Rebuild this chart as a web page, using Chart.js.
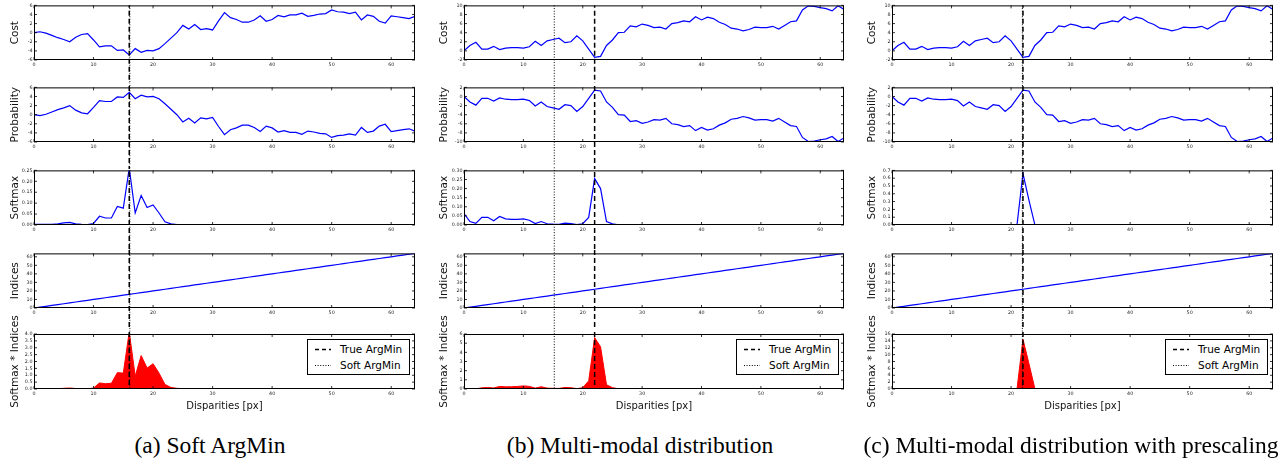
<!DOCTYPE html>
<html><head><meta charset="utf-8">
<script src="https://cdn.jsdelivr.net/npm/chart.js@4.4.1/dist/chart.umd.min.js"></script>
<style>
html,body{margin:0;padding:0;background:#fff;}
body{width:1287px;height:461px;overflow:hidden;position:relative;font-family:'DejaVu Sans',sans-serif;}
canvas{position:absolute;}
.legend{position:absolute;border:1px solid #000;background:#fff;box-sizing:border-box;width:103px;height:36px;font-size:10.5px;color:#000;z-index:5;}
.legend .row{position:absolute;left:0;width:101px;height:14px;line-height:14px;}
.legend svg{position:absolute;left:7px;top:0;}
.legend span{position:absolute;left:32px;top:0;white-space:nowrap;}
.cap{position:absolute;font-family:'Liberation Serif',serif;font-size:23.5px;line-height:27px;white-space:nowrap;transform:translateX(-50%);color:#000;}
</style></head><body>
<script>
// ---------------- data ----------------
const disparities = [0,1,2,3,4,5,6,7,8,9,10,11,12,13,14,15,16,17,18,19,20,21,22,23,24,25,26,27,28,29,30,31,32,33,34,35,36,37,38,39,40,41,42,43,44,45,46,47,48,49,50,51,52,53,54,55,56,57,58,59,60,61,62,63,64];
const indices     = [0,1,2,3,4,5,6,7,8,9,10,11,12,13,14,15,16,17,18,19,20,21,22,23,24,25,26,27,28,29,30,31,32,33,34,35,36,37,38,39,40,41,42,43,44,45,46,47,48,49,50,51,52,53,54,55,56,57,58,59,60,61,62,63,64];

// (a) Soft ArgMin
const costA = [0,0.2,-0.1,-0.6,-1.1,-1.5,-2.0,-1.0,-0.4,-0.2, -1.6,-3.1,-2.9,-2.9,-3.9,-3.8,-4.9,-3.5,-4.3,-3.9, -4.0,-3.5,-2.4,-1.2,0,1.6,0.8,1.8,0.7,0.9, 0.6,2.6,4.4,3.3,2.9,2.3,2.3,2.8,3.7,2.5, 2.9,3.8,3.5,3.9,3.9,4.3,3.6,3.8,4.1,4.2, 5.0,4.6,4.5,4.2,4.5,2.8,3.9,3.6,2.5,2.1, 3.7,3.5,3.3,3.1,3.6];
const probA = [0,-0.2,0.1,0.6,1.1,1.5,2.0,1.0,0.4,0.2, 1.6,3.1,2.9,2.9,3.9,3.8,4.9,3.5,4.3,3.9, 4.0,3.5,2.4,1.2,0,-1.6,-0.8,-1.8,-0.7,-0.9, -0.6,-2.6,-4.4,-3.3,-2.9,-2.3,-2.3,-2.8,-3.7,-2.5, -2.9,-3.8,-3.5,-3.9,-3.9,-4.3,-3.6,-3.8,-4.1,-4.2, -5.0,-4.6,-4.5,-4.2,-4.5,-2.8,-3.9,-3.6,-2.5,-2.1, -3.7,-3.5,-3.3,-3.1,-3.6];
const softA = [0.003,0.003,0.003,0.003,0.005,0.010,0.012,0.005,0.003,0.002, 0.007,0.040,0.032,0.032,0.085,0.077,0.260,0.055,0.135,0.080, 0.092,0.055,0.015,0.005,0.002,0.001,0.001,0.001,0,0, 0,0,0,0,0,0,0,0,0,0, 0,0,0,0,0,0,0,0,0,0, 0,0,0,0,0,0,0,0,0,0, 0,0,0,0,0];
const softIdxA = [0,0.003,0.006,0.009,0.020,0.050,0.072,0.035,0.024,0.018, 0.070,0.440,0.384,0.416,1.190,1.155,4.160,0.935,2.430,1.520, 1.840,1.155,0.330,0.115,0.048,0.025,0.026,0.027,0,0, 0,0,0,0,0,0,0,0,0,0, 0,0,0,0,0,0,0,0,0,0, 0,0,0,0,0,0,0,0,0,0, 0,0,0,0,0];
const trueArgMinA = 16, softArgMinA = 16.1;

// (b) Multi-modal distribution
const costB = [0,1.2,1.9,0.4,0.4,1.0,0.3,0.6,0.7,0.7, 0.6,0.9,2.1,1.2,2.2,2.5,2.8,1.8,2.0,3.3, 2.2,0.4,-1.4,-1.2,1.2,2.4,4.0,4.1,5.5,5.3, 5.9,5.6,5.1,5.2,4.8,6.0,6.2,6.6,6.4,7.5, 6.8,7.4,7.1,6.3,5.8,5.0,4.8,4.4,4.7,5.2, 5.1,5.1,5.4,4.8,5.6,6.4,6.6,9.0,9.9,9.8, 9.5,9.3,8.8,9.9,9.1];
const probB = [0,-1.2,-1.9,-0.4,-0.4,-1.0,-0.3,-0.6,-0.7,-0.7, -0.6,-0.9,-2.1,-1.2,-2.2,-2.5,-2.8,-1.8,-2.0,-3.3, -2.2,-0.4,1.4,1.2,-1.2,-2.4,-4.0,-4.1,-5.5,-5.3, -5.9,-5.6,-5.1,-5.2,-4.8,-6.0,-6.2,-6.6,-6.4,-7.5, -6.8,-7.4,-7.1,-6.3,-5.8,-5.0,-4.8,-4.4,-4.7,-5.2, -5.1,-5.1,-5.4,-4.8,-5.6,-6.4,-6.6,-9.0,-9.9,-9.8, -9.5,-9.3,-8.8,-9.9,-9.1];
const softB = [0.063,0.019,0.009,0.042,0.042,0.023,0.047,0.034,0.031,0.031, 0.034,0.026,0.008,0.019,0.007,0.005,0.004,0.010,0.008,0.002, 0.007,0.042,0.255,0.200,0.019,0.006,0.001,0.001,0,0, 0,0,0,0,0,0,0,0,0,0, 0,0,0,0,0,0,0,0,0,0, 0,0,0,0,0,0,0,0,0,0, 0,0,0,0,0];
const softIdxB = [0,0.019,0.018,0.126,0.168,0.115,0.282,0.238,0.248,0.279, 0.340,0.286,0.096,0.247,0.098,0.075,0.064,0.170,0.144,0.038, 0.140,0.882,5.610,4.600,0.456,0.150,0.026,0.027,0,0, 0,0,0,0,0,0,0,0,0,0, 0,0,0,0,0,0,0,0,0,0, 0,0,0,0,0,0,0,0,0,0, 0,0,0,0,0];
const trueArgMinB = 22, softArgMinB = 15.2;

// (c) Multi-modal distribution with prescaling
const costC = [0,1.2,1.9,0.4,0.4,1.0,0.3,0.6,0.7,0.7, 0.6,0.9,2.1,1.2,2.2,2.5,2.8,1.8,2.0,3.3, 2.2,0.4,-1.4,-1.2,1.2,2.4,4.0,4.1,5.5,5.3, 5.9,5.6,5.1,5.2,4.8,6.0,6.2,6.6,6.4,7.5, 6.8,7.4,7.1,6.3,5.8,5.0,4.8,4.4,4.7,5.2, 5.1,5.1,5.4,4.8,5.6,6.4,6.6,9.0,9.9,9.8, 9.5,9.3,8.8,9.9,9.1];
const probC = [0,-1.2,-1.9,-0.4,-0.4,-1.0,-0.3,-0.6,-0.7,-0.7, -0.6,-0.9,-2.1,-1.2,-2.2,-2.5,-2.8,-1.8,-2.0,-3.3, -2.2,-0.4,1.4,1.2,-1.2,-2.4,-4.0,-4.1,-5.5,-5.3, -5.9,-5.6,-5.1,-5.2,-4.8,-6.0,-6.2,-6.6,-6.4,-7.5, -6.8,-7.4,-7.1,-6.3,-5.8,-5.0,-4.8,-4.4,-4.7,-5.2, -5.1,-5.1,-5.4,-4.8,-5.6,-6.4,-6.6,-9.0,-9.9,-9.8, -9.5,-9.3,-8.8,-9.9,-9.1];
const softC = [0.006,0.001,0.001,0.002,0.002,0.001,0.002,0.002,0.001,0.001, 0.001,0.001,0,0.001,0,0,0,0,0,0, 0,0.002,0.660,0.320,0.003,0,0,0,0,0, 0,0,0,0,0,0,0,0,0,0, 0,0,0,0,0,0,0,0,0,0, 0,0,0,0,0,0,0,0,0,0, 0,0,0,0,0];
const softIdxC = [0,0.001,0.002,0.006,0.008,0.005,0.012,0.014,0.008,0.009, 0.010,0.011,0,0.013,0,0,0,0,0,0, 0,0.042,14.5,7.4,0.072,0,0,0,0,0, 0,0,0,0,0,0,0,0,0,0, 0,0,0,0,0,0,0,0,0,0, 0,0,0,0,0,0,0,0,0,0, 0,0,0,0,0];
const trueArgMinC = 22, softArgMinC = 21.9;

// tick values / labels
const xTicks = [0,10,20,30,40,50,60];
const xMax = 64;
const costTicksA = [-6,-4,-2,0,2,4,6];
const costTicksBC = [-2,0,2,4,6,8,10];
const probTicksA = [-6,-4,-2,0,2,4,6];
const probTicksBC = [-10,-8,-6,-4,-2,0,2];
const softTicksA = [0,0.05,0.10,0.15,0.20,0.25];
const softLabelsA = ['0.00','0.05','0.10','0.15','0.20','0.25'];
const softTicksB = [0,0.05,0.10,0.15,0.20,0.25,0.30];
const softLabelsB = ['0.00','0.05','0.10','0.15','0.20','0.25','0.30'];
const softTicksC = [0,0.1,0.2,0.3,0.4,0.5,0.6,0.7];
const softLabelsC = ['0.0','0.1','0.2','0.3','0.4','0.5','0.6','0.7'];
const idxTicks = [0,10,20,30,40,50,60];
const idxMax = 64;
const siTicksA = [0,0.5,1.0,1.5,2.0,2.5,3.0,3.5,4.0];
const siLabelsA = ['0.0','0.5','1.0','1.5','2.0','2.5','3.0','3.5','4.0'];
const siTicksB = [0,1,2,3,4,5,6];
const siTicksC = [0,2,4,6,8,10,12,14,16];
const rowTitles = ['Cost','Probability','Softmax','Indices','Softmax * Indices'];
const xTitle = 'Disparities [px]';
const legendLabels = ['True ArgMin','Soft ArgMin'];
const captions = ['(a) Soft ArgMin','(b) Multi-modal distribution','(c) Multi-modal distribution with prescaling'];

// ---------------- build ----------------
const columns = [
  {rows:[
    {v:costA, t:costTicksA}, {v:probA, t:probTicksA}, {v:softA, t:softTicksA, l:softLabelsA},
    {v:indices, t:idxTicks, max:idxMax}, {v:softIdxA, t:siTicksA, l:siLabelsA, fill:true}],
   trueX:trueArgMinA, softX:softArgMinA},
  {rows:[
    {v:costB, t:costTicksBC}, {v:probB, t:probTicksBC}, {v:softB, t:softTicksB, l:softLabelsB},
    {v:indices, t:idxTicks, max:idxMax}, {v:softIdxB, t:siTicksB, fill:true}],
   trueX:trueArgMinB, softX:softArgMinB},
  {rows:[
    {v:costC, t:costTicksBC}, {v:probC, t:probTicksBC}, {v:softC, t:softTicksC, l:softLabelsC},
    {v:indices, t:idxTicks, max:idxMax}, {v:softIdxC, t:siTicksC, fill:true}],
   trueX:trueArgMinC, softX:softArgMinC}
];

// layout (pixels)
const plotL = [34,464,892], plotR = [415,844,1273];
const canvasTops = [1,83,166,249,310], canvasH = [82,83,83,81,102];
const padTops = [4,4,4,4,24];
const plotH = 55, axisW = 34, padRight = 3;
const titlePad = [9,7.5,7.7];
const capCenters = [210,640,1071];
const FONT = 'DejaVu Sans';

const framePlugin = {
  id:'frame',
  afterDraw(chart){
    const {ctx, chartArea:a, scales:{x,y}} = chart;
    ctx.save();
    ctx.strokeStyle = '#000'; ctx.lineWidth = 0.8; ctx.setLineDash([]);
    ctx.beginPath();
    x.ticks.forEach(t=>{const p=x.getPixelForValue(t.value);
      ctx.moveTo(p,a.bottom); ctx.lineTo(p,a.bottom-3); ctx.moveTo(p,a.top); ctx.lineTo(p,a.top+3);});
    y.ticks.forEach(t=>{const p=y.getPixelForValue(t.value);
      ctx.moveTo(a.left,p); ctx.lineTo(a.left+3,p); ctx.moveTo(a.right,p); ctx.lineTo(a.right-3,p);});
    ctx.stroke();
    ctx.lineWidth = 1;
    ctx.strokeRect(a.left+0.5, a.top+0.5, a.right-a.left-1, a.bottom-a.top-1);
    ctx.restore();
  }
};
const vlinePlugin = {
  id:'vlines',
  afterDatasetsDraw(chart, args, o){
    const {ctx, chartArea:a, scales:{x}} = chart;
    const y0 = o.first ? a.top : o.startY;
    const y1 = o.last ? a.bottom : chart.height;
    ctx.save();
    ctx.strokeStyle = '#000';
    ctx.lineWidth = 1; ctx.setLineDash([1,1.7]); ctx.lineDashOffset = -(o.pageTop + y0) % 2.7;
    let p = x.getPixelForValue(o.softX);
    ctx.beginPath(); ctx.moveTo(p,y0); ctx.lineTo(p,y1); ctx.stroke();
    ctx.lineWidth = 1.5; ctx.setLineDash([5,3]); ctx.lineDashOffset = -(o.pageTop + y0) % 8;
    p = x.getPixelForValue(o.trueX);
    ctx.beginPath(); ctx.moveTo(p,y0); ctx.lineTo(p,y1); ctx.stroke();
    ctx.restore();
  }
};

columns.forEach((col, ci) => {
  col.rows.forEach((row, ri) => {
    const cv = document.createElement('canvas');
    const left = plotL[ci] - axisW;
    const width = plotR[ci] - plotL[ci] + axisW + padRight;
    const height = canvasH[ri];
    const padTop = padTops[ri];
    cv.width = width; cv.height = height;
    cv.style.left = left + 'px'; cv.style.top = canvasTops[ri] + 'px';
    cv.style.width = width + 'px'; cv.style.height = height + 'px';
    document.body.appendChild(cv);
    const last = ri === 4;
    const xAxisH = height - padTop - plotH;
    const yMin = row.t[0];
    const yMax = row.max !== undefined ? row.max : row.t[row.t.length-1];
    new Chart(cv, {
      type:'line',
      data:{datasets:[{
        data: disparities.map((d,i)=>({x:d, y:row.v[i]})),
        borderColor: row.fill ? '#ff0000' : '#0000ff',
        backgroundColor: '#ff0000',
        fill: row.fill ? 'origin' : false,
        borderWidth: row.fill ? 1 : 1.2,
        pointRadius: 0, tension: 0
      }]},
      options:{
        responsive:false, animation:false, devicePixelRatio:1,
        layout:{padding:{top:padTop, right:padRight, bottom:0, left:0}},
        plugins:{legend:{display:false}, tooltip:{enabled:false},
          vlines:{trueX:col.trueX, softX:col.softX, first:ri===0, last:last, pageTop:canvasTops[ri], startY:padTop-4}},
        scales:{
          x:{type:'linear', min:0, max:xMax,
            afterBuildTicks:s=>{s.ticks = xTicks.map(v=>({value:v}));},
            afterFit:s=>{s.height = xAxisH;},
            grid:{display:false, drawTicks:false, tickLength:0},
            border:{display:false},
            ticks:{font:{size:4.8, family:FONT}, color:'#222', padding:2, maxRotation:0, autoSkip:false},
            title:{display:last, text:xTitle, font:{size:10, family:FONT}, color:'#111', padding:{top:0,bottom:0}}
          },
          y:{type:'linear', min:yMin, max:yMax,
            afterBuildTicks:s=>{s.ticks = row.t.map(v=>({value:v}));},
            afterFit:s=>{s.width = axisW;},
            grid:{display:false, drawTicks:false, tickLength:0},
            border:{display:false},
            ticks:{font:{size:4.8, family:FONT}, color:'#222', padding:1.5, autoSkip:false,
              callback:(v,i)=> row.l ? row.l[i] : String(row.t[i])},
            title:{display:true, text:rowTitles[ri], font:{size:10.5, family:FONT}, color:'#111', padding:{top:titlePad[ci], bottom:0}}
          }
        }
      },
      plugins:[vlinePlugin, framePlugin]
    });
  });

  // legend inside last subplot
  const lg = document.createElement('div');
  lg.className = 'legend';
  lg.style.left = (plotR[ci] - 5 - 103) + 'px';
  lg.style.top = (canvasTops[4] + padTops[4] + 5) + 'px';
  const dashes = ['4,3', '1,1.6'];
  const widths = [1.5, 1];
  lg.innerHTML = legendLabels.map((t,k)=>
    `<div class="row" style="top:${2+k*16}px"><svg width="17" height="14"><line x1="0" y1="7.5" x2="16" y2="7.5" stroke="#000" stroke-width="${widths[k]}" stroke-dasharray="${dashes[k]}"/></svg><span>${t}</span></div>`).join('');
  document.body.appendChild(lg);

  const cap = document.createElement('div');
  cap.className = 'cap';
  cap.style.left = capCenters[ci] + 'px';
  cap.style.top = '432px';
  cap.textContent = captions[ci];
  document.body.appendChild(cap);
});
</script>
</body></html>
